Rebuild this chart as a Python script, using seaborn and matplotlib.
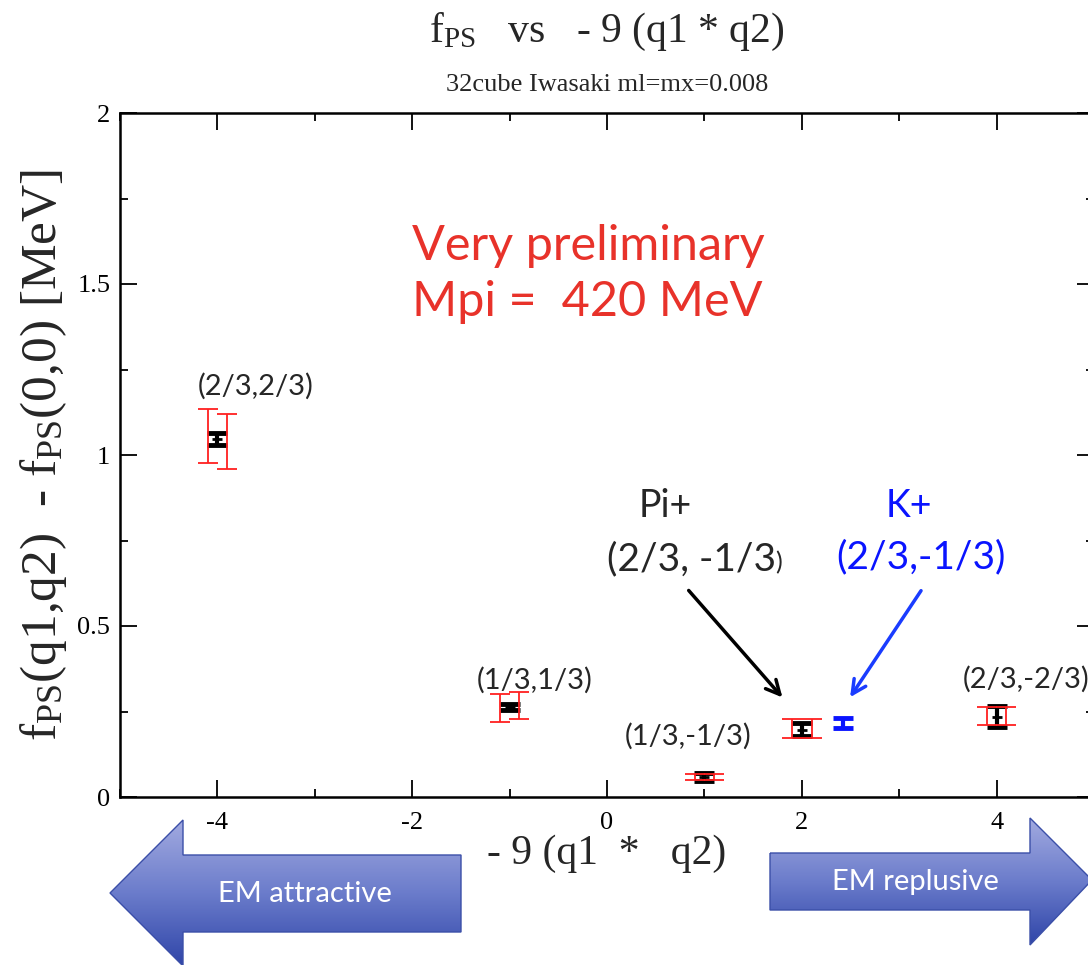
import numpy as np
import matplotlib
matplotlib.use("Agg")
import matplotlib.pyplot as plt
from matplotlib.patches import Polygon
from matplotlib.ticker import MultipleLocator
import pandas as pd
import seaborn as sns

# datos
x_pos = [-4, -1, 1, 2, 4]
y_black = [1.047, 0.263, 0.058, 0.197, 0.235]
err_black = [0.018, 0.010, 0.012, 0.020, 0.030]
y_red_a = [1.056, 0.260, 0.058, 0.200, 0.237]
err_red_a = [0.079, 0.041, 0.008, 0.028, 0.026]
y_red_b = [1.039, 0.268, 0.058, 0.200, 0.237]
err_red_b = [0.080, 0.040, 0.008, 0.028, 0.026]
red_shift = 0.1
x_kaon = [2.42]
y_kaon = [0.216]
err_kaon = [0.015]
point_labels = ["(2/3,2/3)", "(1/3,1/3)", "(1/3,-1/3)", "", "(2/3,-2/3)"]

sns.set_theme(style="ticks")
plt.rcParams['font.family'] = ['Liberation Serif', 'DejaVu Serif']
plt.rcParams['mathtext.fontset'] = 'custom'
plt.rcParams['mathtext.rm'] = 'Liberation Serif'
plt.rcParams['mathtext.it'] = 'Liberation Serif:italic'
plt.rcParams['axes.unicode_minus'] = False
SANS = ['Lato', 'DejaVu Sans']

fig = plt.figure(figsize=(10.88, 9.65), dpi=100)
ax = fig.add_axes([120 / 1088, 168 / 965, 974 / 1088, 684 / 965])

xs = np.array(x_pos, dtype=float)
ax.errorbar(xs - red_shift, y_red_a, yerr=err_red_a, fmt='none', ecolor='#ff2020',
            elinewidth=1.3, capsize=7, capthick=1.3, zorder=3)
ax.errorbar(xs + red_shift, y_red_b, yerr=err_red_b, fmt='none', ecolor='#ff2020',
            elinewidth=1.3, capsize=7, capthick=1.3, zorder=3)
ax.errorbar(xs, y_black, yerr=err_black, fmt='none', ecolor='black',
            elinewidth=3, capsize=7, capthick=3.5, zorder=2)
ax.errorbar(x_kaon, y_kaon, yerr=err_kaon, fmt='none', ecolor='#0a14ff',
            elinewidth=3, capsize=7, capthick=3.5, zorder=2)
df = pd.DataFrame({'x': xs, 'y': y_black})
sns.scatterplot(data=df, x='x', y='y', marker='_', s=50, color='black',
                linewidth=2, ax=ax, legend=False, zorder=2)

ax.set_xlim(-5, 5)
ax.set_ylim(0, 2)
ax.xaxis.set_major_locator(MultipleLocator(2))
ax.xaxis.set_minor_locator(MultipleLocator(1))
ax.yaxis.set_minor_locator(MultipleLocator(0.25))
ax.set_yticks([0, 0.5, 1, 1.5, 2])
ax.set_yticklabels(['0', '0.5', '1', '1.5', '2'])
ax.tick_params(which='both', direction='in', top=True, right=True, labelsize=19,
               colors='black')
ax.tick_params(axis='x', pad=11)
ax.tick_params(axis='y', pad=7)
ax.tick_params(which='major', length=12, width=1.3)
ax.tick_params(which='minor', length=6, width=1.3)
for s in ax.spines.values():
    s.set_linewidth(1.8)
    s.set_color('black')

ax.set_xlabel('- 9 (q1  *   q2)', fontsize=30, labelpad=0)
ax.set_ylabel(r'f$_{\mathrm{PS}}$(q1,q2)  - f$_{\mathrm{PS}}$(0,0) [MeV]', fontsize=37, labelpad=6)

fig.text(607 / 1088, 1 - 32 / 965, r'f$_{\mathrm{PS}}$   vs   - 9 (q1 * q2)', fontsize=30,
         ha='center', va='center')
fig.text(607 / 1088, 1 - 85 / 965, '32cube Iwasaki ml=mx=0.008', fontsize=19,
         ha='center', va='center')

# etiquetas de puntos
lab_off = [(0.39, 0.155), (0.26, 0.077), (-0.17, 0.12), (0, 0), (0.3, 0.11)]
for xp, yp, lab, (dx, dy) in zip(x_pos, y_black, point_labels, lab_off):
    if lab:
        ax.text(xp + dx, yp + dy, lab, fontsize=21, family=SANS, ha='center', va='center')

ax.text(-2.0, 1.53, 'Very preliminary\nMpi =  420 MeV', color='#e8322a', fontsize=35,
        family=SANS, ha='left', va='center', linespacing=1.32)

ax.text(0.6, 0.85, 'Pi+', fontsize=27, family=SANS, ha='center', va='center')
ax.text(1.73, 0.664, '(2/3, -1/3', fontsize=28, family=SANS, ha='right', va='baseline')
ax.text(1.73, 0.664, ')', fontsize=18, family=SANS, ha='left', va='baseline')
ax.text(3.1, 0.85, 'K+', fontsize=27, family=SANS, color='#0a14ff', ha='center', va='center')
ax.text(3.22, 0.70, '(2/3,-1/3)', fontsize=28, family=SANS, color='#0a14ff', ha='center', va='center')
ax.annotate('', xy=(1.82, 0.285), xytext=(0.82, 0.61),
            arrowprops=dict(arrowstyle='->', color='black', lw=2.5, mutation_scale=25))
ax.annotate('', xy=(2.48, 0.285), xytext=(3.24, 0.61),
            arrowprops=dict(arrowstyle='->', color='#1a3cff', lw=2.5, mutation_scale=25))

# flechas EM en coordenadas de pixel
ov = fig.add_axes([0, 0, 1, 1], zorder=-1)
ov.set_xlim(0, 1088)
ov.set_ylim(965, 0)
ov.axis('off')
grad = np.linspace(0, 1, 256).reshape(-1, 1)
cmap = matplotlib.colors.LinearSegmentedColormap.from_list('g', ['#a2aae0', '#6b7ccb', '#2f45a8'])


def big_arrow(pts, ytop, ybot, label, cx, cy):
    poly = Polygon(pts, closed=True, facecolor='none', edgecolor='#3b4fa8', lw=1)
    ov.add_patch(poly)
    xs_ = [p[0] for p in pts]
    im = ov.imshow(grad, cmap=cmap, aspect='auto',
                   extent=(min(xs_), max(xs_), ybot, ytop))
    im.set_clip_path(poly)
    ov.text(cx, cy, label, color='white', fontsize=21, family=SANS, ha='center', va='center')


big_arrow([(110, 893), (183, 820), (183, 855), (461, 855), (461, 932), (183, 932), (183, 966)],
          820, 966, 'EM attractive', 305, 894)
big_arrow([(770, 853), (1030, 853), (1030, 818), (1092, 880), (1030, 945), (1030, 910), (770, 910)],
          818, 945, 'EM replusive', 915, 882)
ov.set_xlim(0, 1088)
ov.set_ylim(965, 0)

fig.savefig('out.png', dpi=100)
